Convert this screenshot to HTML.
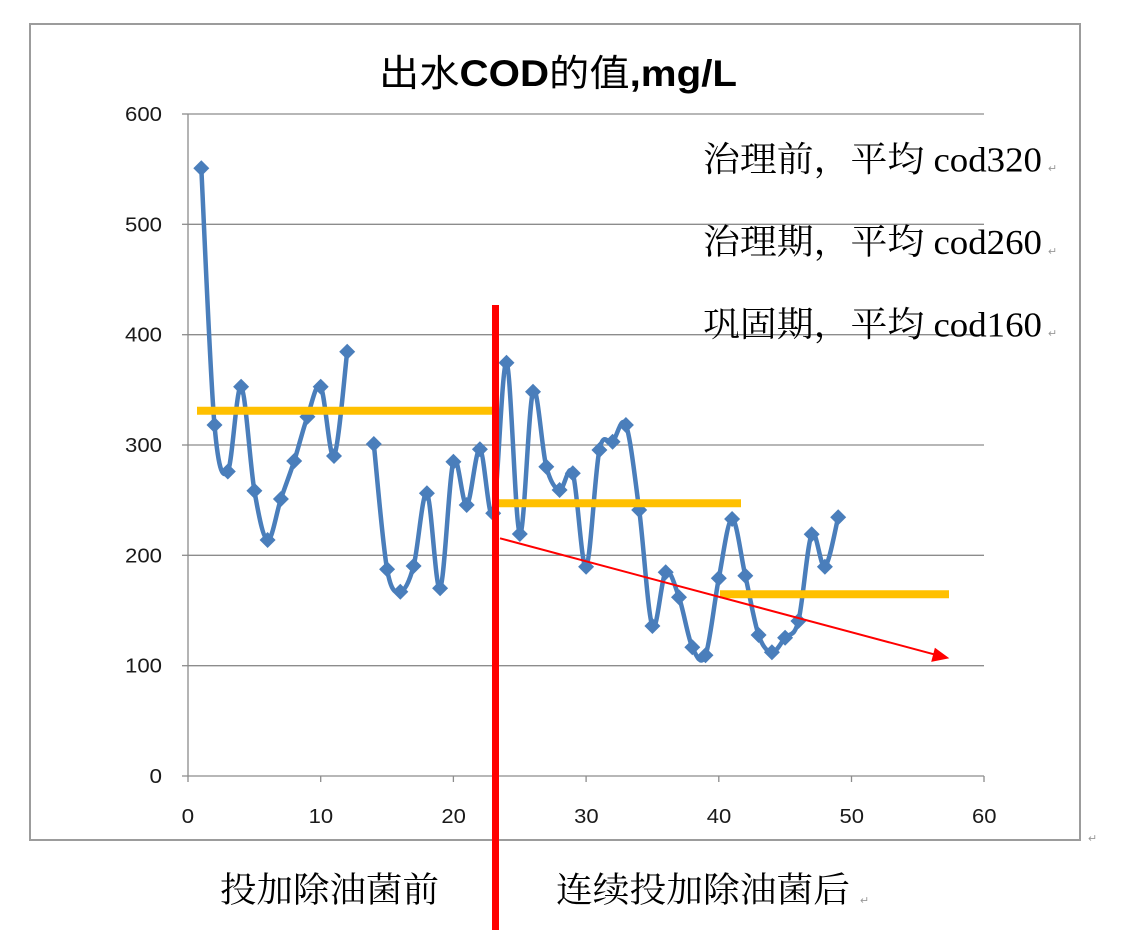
<!DOCTYPE html>
<html>
<head>
<meta charset="utf-8">
<style>
  html, body { margin: 0; padding: 0; background: #ffffff; }
  svg { display: block; }
  .ax { font-family: "Liberation Sans", sans-serif; font-size: 20px; fill: #1a1a1a; }
  .tb { font-family: "Liberation Serif", "Noto Serif CJK SC", serif; font-size: 35px; fill: #000; }
  .pm { font-family: "Liberation Sans", sans-serif; font-size: 11px; fill: #999; }
</style>
</head>
<body>
<svg id="chart" width="1124" height="930" viewBox="0 0 1124 930" xmlns="http://www.w3.org/2000/svg">
  <defs>
    <marker id="dia" markerWidth="17" markerHeight="17" refX="8.5" refY="8.5" markerUnits="userSpaceOnUse" orient="0">
      <path d="M8.5 0.5 L16.5 8.5 L8.5 16.5 L0.5 8.5 Z" fill="#4a7ebb"/>
    </marker>
  </defs>
  <rect x="0" y="0" width="1124" height="930" fill="#ffffff"/>

  <!-- outer chart frame -->
  <rect x="30" y="24" width="1050" height="816" fill="none" stroke="#9c9c9c" stroke-width="2"/>

  <!-- title -->
  <text x="379" y="86" font-size="37" textLength="358" lengthAdjust="spacingAndGlyphs"
        font-family="'Liberation Sans', 'Noto Sans CJK SC', sans-serif" fill="#000">出水<tspan font-weight="bold">COD</tspan>的值<tspan font-weight="bold">,mg/L</tspan></text>

  <!-- gridlines -->
  <g stroke="#8c8c8c" stroke-width="1.3">
    <line x1="188" y1="114" x2="984" y2="114"/>
    <line x1="188" y1="224.3" x2="984" y2="224.3"/>
    <line x1="188" y1="334.7" x2="984" y2="334.7"/>
    <line x1="188" y1="445" x2="984" y2="445"/>
    <line x1="188" y1="555.3" x2="984" y2="555.3"/>
    <line x1="188" y1="665.7" x2="984" y2="665.7"/>
    <line x1="182" y1="776" x2="984" y2="776"/>
    <!-- y axis -->
    <line x1="188" y1="114" x2="188" y2="782"/>
    <!-- y ticks -->
    <line x1="182" y1="114" x2="188" y2="114"/>
    <line x1="182" y1="224.3" x2="188" y2="224.3"/>
    <line x1="182" y1="334.7" x2="188" y2="334.7"/>
    <line x1="182" y1="445" x2="188" y2="445"/>
    <line x1="182" y1="555.3" x2="188" y2="555.3"/>
    <line x1="182" y1="665.7" x2="188" y2="665.7"/>
    <!-- x ticks -->
    <line x1="320.7" y1="776" x2="320.7" y2="782"/>
    <line x1="453.4" y1="776" x2="453.4" y2="782"/>
    <line x1="586.1" y1="776" x2="586.1" y2="782"/>
    <line x1="718.8" y1="776" x2="718.8" y2="782"/>
    <line x1="851.5" y1="776" x2="851.5" y2="782"/>
    <line x1="984" y1="776" x2="984" y2="782"/>
  </g>

  <!-- y labels -->
  <g class="ax" text-anchor="end">
    <text x="162" y="121" textLength="37" lengthAdjust="spacingAndGlyphs">600</text>
    <text x="162" y="231.3" textLength="37" lengthAdjust="spacingAndGlyphs">500</text>
    <text x="162" y="341.7" textLength="37" lengthAdjust="spacingAndGlyphs">400</text>
    <text x="162" y="452" textLength="37" lengthAdjust="spacingAndGlyphs">300</text>
    <text x="162" y="562.3" textLength="37" lengthAdjust="spacingAndGlyphs">200</text>
    <text x="162" y="672.7" textLength="37" lengthAdjust="spacingAndGlyphs">100</text>
    <text x="162" y="783" textLength="12.5" lengthAdjust="spacingAndGlyphs">0</text>
  </g>
  <!-- x labels -->
  <g class="ax">
    <text x="181.7" y="823" textLength="12.5" lengthAdjust="spacingAndGlyphs">0</text>
    <text x="308.7" y="823" textLength="24.5" lengthAdjust="spacingAndGlyphs">10</text>
    <text x="441.4" y="823" textLength="24.5" lengthAdjust="spacingAndGlyphs">20</text>
    <text x="574.1" y="823" textLength="24.5" lengthAdjust="spacingAndGlyphs">30</text>
    <text x="706.8" y="823" textLength="24.5" lengthAdjust="spacingAndGlyphs">40</text>
    <text x="839.5" y="823" textLength="24.5" lengthAdjust="spacingAndGlyphs">50</text>
    <text x="972" y="823" textLength="24.5" lengthAdjust="spacingAndGlyphs">60</text>
  </g>

  <!-- data series (fallback straight; replaced by smooth via script) -->
  <path id="s1" fill="none" stroke="#4a7ebb" stroke-width="4.5" stroke-linejoin="round"
        marker-start="url(#dia)" marker-mid="url(#dia)" marker-end="url(#dia)"
        d="M201.3,168.3 L214.5,425 L227.8,471.5 L241.1,386.7 L254.4,490.7 L267.6,540 L280.9,499 L294.2,461 L307.4,416.7 L320.7,386.7 L334,456 L347.2,351.7"/>
  <path id="s2" fill="none" stroke="#4a7ebb" stroke-width="4.5" stroke-linejoin="round"
        marker-start="url(#dia)" marker-mid="url(#dia)" marker-end="url(#dia)"
        d="M373.8,444 L387.1,569.3 L400.3,591.7 L413.6,566 L426.9,493.3 L440.1,588.3 L453.4,461.7 L466.7,505 L479.9,449.3 L493.2,513.3 L506.5,362.7 L519.8,534 L533,391.7 L546.3,466.7 L559.6,490 L572.8,473.3 L586.1,566.7 L599.4,450 L612.6,441.7 L625.9,425 L639.2,510 L652.4,626 L665.7,572.3 L679,597.3 L692.3,647.3 L705.5,655.3 L718.8,578.3 L732.1,519 L745.3,575.7 L758.6,635 L771.9,652.3 L785.1,637.7 L798.4,621 L811.7,534.3 L824.9,566.7 L838.2,517.3"/>

  <!-- yellow average lines -->
  <g stroke="#ffc000" stroke-width="8">
    <line x1="197" y1="410.7" x2="495" y2="410.7"/>
    <line x1="496" y1="503.3" x2="741" y2="503.3"/>
    <line x1="720" y1="594.3" x2="949" y2="594.3"/>
  </g>

  <!-- red trend arrow -->
  <line x1="500" y1="538.3" x2="934" y2="654.3" stroke="#ff0000" stroke-width="2"/>
  <path d="M949.3,658.3 L931.2,661.9 L934.9,647.7 Z" fill="#ff0000"/>

  <!-- red vertical divider -->
  <rect x="492" y="305" width="7" height="625" fill="#ff0000"/>

  <!-- annotation text box -->
  <g class="tb">
    <text x="703" y="171.7" textLength="339" lengthAdjust="spacingAndGlyphs">治理前，平均 cod320</text>
    <text x="703" y="254" textLength="339" lengthAdjust="spacingAndGlyphs">治理期，平均 cod260</text>
    <text x="703" y="336.7" textLength="339" lengthAdjust="spacingAndGlyphs">巩固期，平均 cod160</text>
  </g>
  <g class="pm">
    <text x="1048" y="172">↵</text>
    <text x="1048" y="255">↵</text>
    <text x="1048" y="337">↵</text>
    <text x="1088" y="842">↵</text>
    <text x="860" y="904">↵</text>
  </g>

  <!-- bottom labels -->
  <g class="tb">
    <text x="220" y="902" textLength="219" lengthAdjust="spacingAndGlyphs">投加除油菌前</text>
    <text x="556" y="902" textLength="294" lengthAdjust="spacingAndGlyphs">连续投加除油菌后</text>
  </g>
</svg>
<script>
(function(){
  function parse(d){
    return d.replace(/^M/,'').split(' L').map(function(s){var a=s.split(',');return [parseFloat(a[0]),parseFloat(a[1])];});
  }
  function smooth(p){
    var d='M'+p[0][0]+','+p[0][1];
    for(var i=0;i<p.length-1;i++){
      var p0=p[i-1]||p[i], p1=p[i], p2=p[i+1], p3=p[i+2]||p[i+1];
      var c1x=p1[0]+(p2[0]-p0[0])/6, c1y=p1[1]+(p2[1]-p0[1])/6;
      var c2x=p2[0]-(p3[0]-p1[0])/6, c2y=p2[1]-(p3[1]-p1[1])/6;
      d+=' C'+c1x.toFixed(2)+','+c1y.toFixed(2)+' '+c2x.toFixed(2)+','+c2y.toFixed(2)+' '+p2[0]+','+p2[1];
    }
    return d;
  }
  ['s1','s2'].forEach(function(id){
    var el=document.getElementById(id);
    el.setAttribute('d', smooth(parse(el.getAttribute('d'))));
  });
})();
</script>
</body>
</html>
